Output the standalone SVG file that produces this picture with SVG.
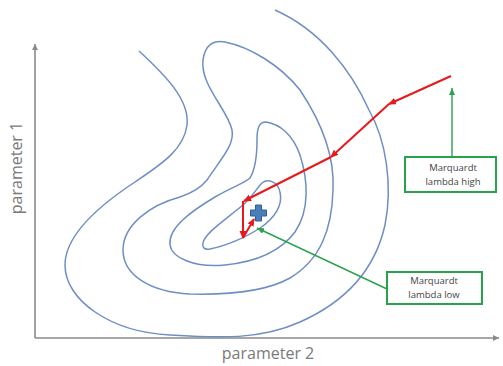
<svg xmlns="http://www.w3.org/2000/svg" width="503" height="366" viewBox="0 0 503 366">
<style>
.contour{fill:none;stroke:#6f8fc2;stroke-width:1.5}
.axis{fill:none;stroke:#8a8a8a;stroke-width:1.6}
.red{fill:none;stroke:#e8191c;stroke-width:2}
.green{fill:none;stroke:#2aa24c;stroke-width:1.4}
.box{fill:#fff;stroke:#2aa24c;stroke-width:2}
.lbl{font-family:"Open Sans","DejaVu Sans",sans-serif;font-size:9.5px;fill:#444;text-anchor:middle}
.axl{font-family:"Open Sans","DejaVu Sans",sans-serif;font-size:16px;fill:#7a7a7a;text-anchor:middle}
</style>
<defs>
<marker id="ar" markerUnits="userSpaceOnUse" markerWidth="10" markerHeight="8" refX="7" refY="3.5" orient="auto"><path d="M0,0 L8,3.5 L0,7 Z" fill="#e8191c"/></marker>
<marker id="ag" markerUnits="userSpaceOnUse" markerWidth="10" markerHeight="8" refX="7" refY="3" orient="auto"><path d="M0,0 L7,3 L0,6 Z" fill="#2aa24c"/></marker>
<marker id="ax" markerUnits="userSpaceOnUse" markerWidth="10" markerHeight="8" refX="6" refY="3" orient="auto"><path d="M0,0 L6,3 L0,6 Z" fill="#8a8a8a"/></marker>
</defs>
<g id="axes">
<path class="axis" d="M35,338 L35,44" marker-end="url(#ax)"/>
<path class="axis" d="M35,338 L499,338" marker-end="url(#ax)"/>
<text class="axl" transform="translate(22,168) rotate(-90)">parameter 1</text>
<text class="axl" x="268" y="359">parameter 2</text>
</g>
<g id="contours">
<path id="contour1" class="contour" d="M139,51 C165,75 190,100 187,125 C184,150 160,165 135,182 C100,205 65,235 65,265 C65,300 110,332 170,335 C220,338 260,340 300,322 C345,302 375,270 385,225 C393,185 386,140 369,110 C351,70 320,30 275,10"/>
<path id="contour2" class="contour" d="M207,180 C220,160 235,145 232,130 C228,110 200,85 203,60 C205,45 213,40 225,42 C250,47 280,65 300,90 C320,120 335,155 333,190 C332,230 320,260 290,278 C265,292 230,295 190,294 C150,292 123,275 123,250 C123,225 150,205 180,197 C195,192 203,185 207,180 Z"/>
<path id="contour3" class="contour" d="M250,178 C256,168 257,155 257,140 C257,128 259,122 266,122 C280,124 293,135 300,155 C308,180 310,210 295,232 C280,252 255,262 225,265 C195,268 172,258 170,245 C168,228 190,212 215,197 C232,187 245,183 250,178 Z"/>
<path id="contour4" class="contour" d="M203,243 C205,233 225,220 243,205 C252,197 257,188 262,183 C268,178 278,182 280,192 C283,205 275,218 260,228 C245,238 225,246 210,249 C204,250 202,247 203,243 Z"/>
</g>
<g id="minimum">
<path d="M255.5,205 h6 v5 h5 v6 h-5 v5 h-6 v-5 h-5 v-6 h5 Z" fill="#4a7ebb" stroke="#2f5f9a" stroke-width="1"/>
</g>
<g id="connectors">
<line class="red" x1="451" y1="76" x2="389" y2="104" marker-end="url(#ar)"/>
<line class="red" x1="389" y1="104" x2="331" y2="157" marker-end="url(#ar)"/>
<line class="red" x1="331" y1="157" x2="244" y2="201" marker-end="url(#ar)"/>
<line class="red" x1="243" y1="201" x2="243" y2="238" marker-end="url(#ar)"/>
<line class="red" x1="243" y1="238" x2="254" y2="219" marker-end="url(#ar)"/>
<line class="green" x1="452" y1="157" x2="452" y2="88" marker-end="url(#ag)"/>
<line class="green" x1="387" y1="289" x2="257" y2="228" marker-end="url(#ag)"/>
</g>
<g id="label-high">
<rect class="box" x="405" y="157" width="91" height="35"/>
<text class="lbl" x="453" y="171">Marquardt</text>
<text class="lbl" x="453" y="185">lambda high</text>
</g>
<g id="label-low">
<rect class="box" x="387" y="272" width="95" height="32"/>
<text class="lbl" x="434" y="284">Marquardt</text>
<text class="lbl" x="434" y="298">lambda low</text>
</g>
</svg>
